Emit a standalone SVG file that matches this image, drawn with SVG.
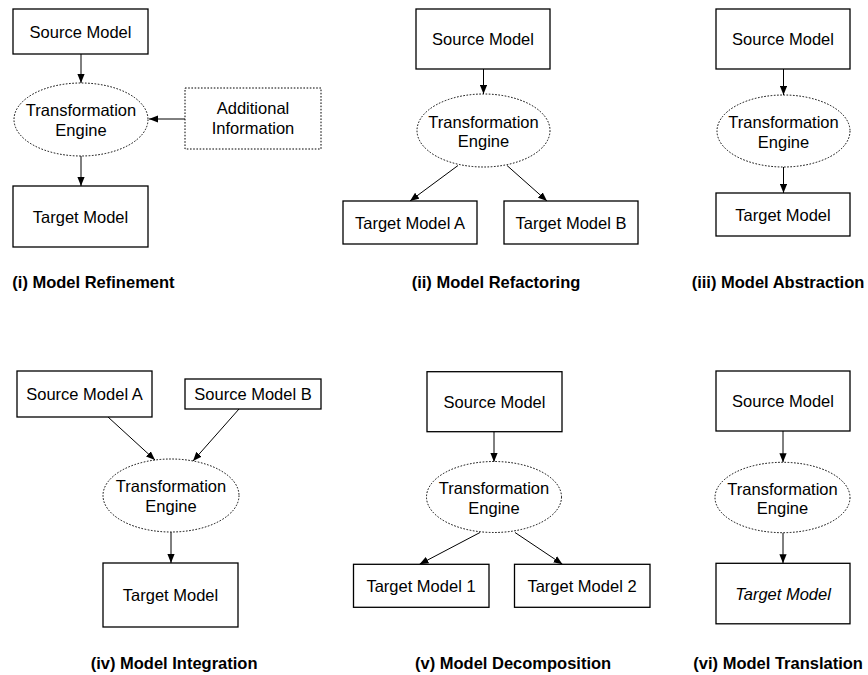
<svg xmlns="http://www.w3.org/2000/svg" width="868" height="675" viewBox="0 0 868 675">
  <style>
    .box { fill: #fff; stroke: #000; stroke-width: 1.3; }
    .dot { fill: #fff; stroke: #000; stroke-width: 1; stroke-dasharray: 1.6 1.6; }
    .t { font-family: "Liberation Sans", Arial, Helvetica, sans-serif; font-size: 16.5px; fill: #000; text-anchor: middle; }
    .it { font-style: italic; }
    .cap { font-family: "Liberation Sans", Arial, Helvetica, sans-serif; font-size: 16.5px; font-weight: bold; fill: #000; }
    .edge { stroke: #000; stroke-width: 1; fill: none; marker-end: url(#arrow); }
  </style>
  <defs>
    <marker id="arrow" viewBox="0 0 10 8" markerUnits="userSpaceOnUse" markerWidth="9" markerHeight="7.5" refX="10" refY="4" orient="auto">
      <path d="M0,0 L10,4 L0,8 z" fill="#000"/>
    </marker>
  </defs>
  <rect width="868" height="675" fill="#fff"/>

  <!-- connectors -->
  <g id="connectors">
    <!-- (i) refinement -->
    <line class="edge" x1="81" y1="54" x2="81" y2="83"/>
    <line class="edge" x1="185" y1="119" x2="149" y2="119"/>
    <line class="edge" x1="81" y1="156" x2="81" y2="186"/>
    <!-- (ii) refactoring -->
    <line class="edge" x1="483.5" y1="69" x2="483.5" y2="94"/>
    <line class="edge" x1="458" y1="165.5" x2="410" y2="201"/>
    <line class="edge" x1="507" y1="165.5" x2="547" y2="201"/>
    <!-- (iii) abstraction -->
    <line class="edge" x1="783.5" y1="69" x2="783.5" y2="95"/>
    <line class="edge" x1="783.5" y1="167" x2="783.5" y2="193"/>
    <!-- (iv) integration -->
    <line class="edge" x1="108" y1="417" x2="155" y2="460"/>
    <line class="edge" x1="239" y1="409" x2="193" y2="461"/>
    <line class="edge" x1="171" y1="532" x2="171" y2="563"/>
    <!-- (v) decomposition -->
    <line class="edge" x1="494" y1="431.7" x2="494" y2="462"/>
    <line class="edge" x1="480" y1="532.5" x2="419.5" y2="564.3"/>
    <line class="edge" x1="515" y1="532.5" x2="562.5" y2="564.3"/>
    <!-- (vi) translation -->
    <line class="edge" x1="783" y1="431" x2="783" y2="462.3"/>
    <line class="edge" x1="783" y1="532.7" x2="783" y2="563.3"/>
  </g>

  <!-- (i) Model Refinement -->
  <g id="i-source">
    <rect class="box" x="13" y="9" width="135" height="45"/>
    <text class="t" x="80.5" y="37.5">Source Model</text>
  </g>
  <g id="i-engine">
    <ellipse class="dot" cx="81" cy="119.5" rx="67" ry="36.5"/>
    <text class="t" x="81" y="116">Transformation</text>
    <text class="t" x="81" y="136">Engine</text>
  </g>
  <g id="i-additional">
    <rect class="dot" x="185" y="88" width="136" height="61"/>
    <text class="t" x="253" y="114">Additional</text>
    <text class="t" x="253" y="134">Information</text>
  </g>
  <g id="i-target">
    <rect class="box" x="13" y="186" width="135" height="61"/>
    <text class="t" x="80.5" y="222.5">Target Model</text>
  </g>
  <text class="cap" x="12.3" y="288">(i) Model Refinement</text>

  <!-- (ii) Model Refactoring -->
  <g id="ii-source">
    <rect class="box" x="416" y="9" width="134" height="60"/>
    <text class="t" x="483" y="45">Source Model</text>
  </g>
  <g id="ii-engine">
    <ellipse class="dot" cx="483.5" cy="130.5" rx="66.5" ry="36.5"/>
    <text class="t" x="483.5" y="127.5">Transformation</text>
    <text class="t" x="483.5" y="147">Engine</text>
  </g>
  <g id="ii-target-a">
    <rect class="box" x="343" y="201" width="134" height="43"/>
    <text class="t" x="410" y="228.5">Target Model A</text>
  </g>
  <g id="ii-target-b">
    <rect class="box" x="504" y="201" width="134" height="43"/>
    <text class="t" x="571" y="228.5">Target Model B</text>
  </g>
  <text class="cap" x="411.7" y="288">(ii) Model Refactoring</text>

  <!-- (iii) Model Abstraction -->
  <g id="iii-source">
    <rect class="box" x="716" y="9" width="134" height="60"/>
    <text class="t" x="783" y="45">Source Model</text>
  </g>
  <g id="iii-engine">
    <ellipse class="dot" cx="783.5" cy="131" rx="66.5" ry="36"/>
    <text class="t" x="783.5" y="128">Transformation</text>
    <text class="t" x="783.5" y="147.5">Engine</text>
  </g>
  <g id="iii-target">
    <rect class="box" x="716" y="193" width="134" height="43"/>
    <text class="t" x="783" y="220.5">Target Model</text>
  </g>
  <text class="cap" x="691.7" y="288">(iii) Model Abstraction</text>

  <!-- (iv) Model Integration -->
  <g id="iv-source-a">
    <rect class="box" x="17" y="371" width="135" height="46"/>
    <text class="t" x="84.5" y="400">Source Model A</text>
  </g>
  <g id="iv-source-b">
    <rect class="box" x="185" y="379" width="136" height="30"/>
    <text class="t" x="253" y="400">Source Model B</text>
  </g>
  <g id="iv-engine">
    <ellipse class="dot" cx="171" cy="495.5" rx="68" ry="36.5"/>
    <text class="t" x="171" y="492">Transformation</text>
    <text class="t" x="171" y="512">Engine</text>
  </g>
  <g id="iv-target">
    <rect class="box" x="103" y="563" width="135" height="64"/>
    <text class="t" x="170.5" y="601">Target Model</text>
  </g>
  <text class="cap" x="90.7" y="669">(iv) Model Integration</text>

  <!-- (v) Model Decomposition -->
  <g id="v-source">
    <rect class="box" x="427" y="371.7" width="135" height="60"/>
    <text class="t" x="494.5" y="407.5">Source Model</text>
  </g>
  <g id="v-engine">
    <ellipse class="dot" cx="494" cy="497" rx="67.5" ry="35.5"/>
    <text class="t" x="494" y="494">Transformation</text>
    <text class="t" x="494" y="513.5">Engine</text>
  </g>
  <g id="v-target-1">
    <rect class="box" x="353.5" y="564.3" width="135.5" height="43"/>
    <text class="t" x="421" y="591.5">Target Model 1</text>
  </g>
  <g id="v-target-2">
    <rect class="box" x="514.5" y="564.3" width="135.5" height="43"/>
    <text class="t" x="582" y="591.5">Target Model 2</text>
  </g>
  <text class="cap" x="415" y="669">(v) Model Decomposition</text>

  <!-- (vi) Model Translation -->
  <g id="vi-source">
    <rect class="box" x="716" y="371" width="134" height="60"/>
    <text class="t" x="783" y="407">Source Model</text>
  </g>
  <g id="vi-engine">
    <ellipse class="dot" cx="782.5" cy="497.5" rx="67.5" ry="35.2"/>
    <text class="t" x="782.5" y="494.5">Transformation</text>
    <text class="t" x="782.5" y="514">Engine</text>
  </g>
  <g id="vi-target">
    <rect class="box" x="716" y="563.3" width="134" height="60.5"/>
    <text class="t it" x="783" y="599.5">Target Model</text>
  </g>
  <text class="cap" x="693.3" y="669">(vi) Model Translation</text>
</svg>
